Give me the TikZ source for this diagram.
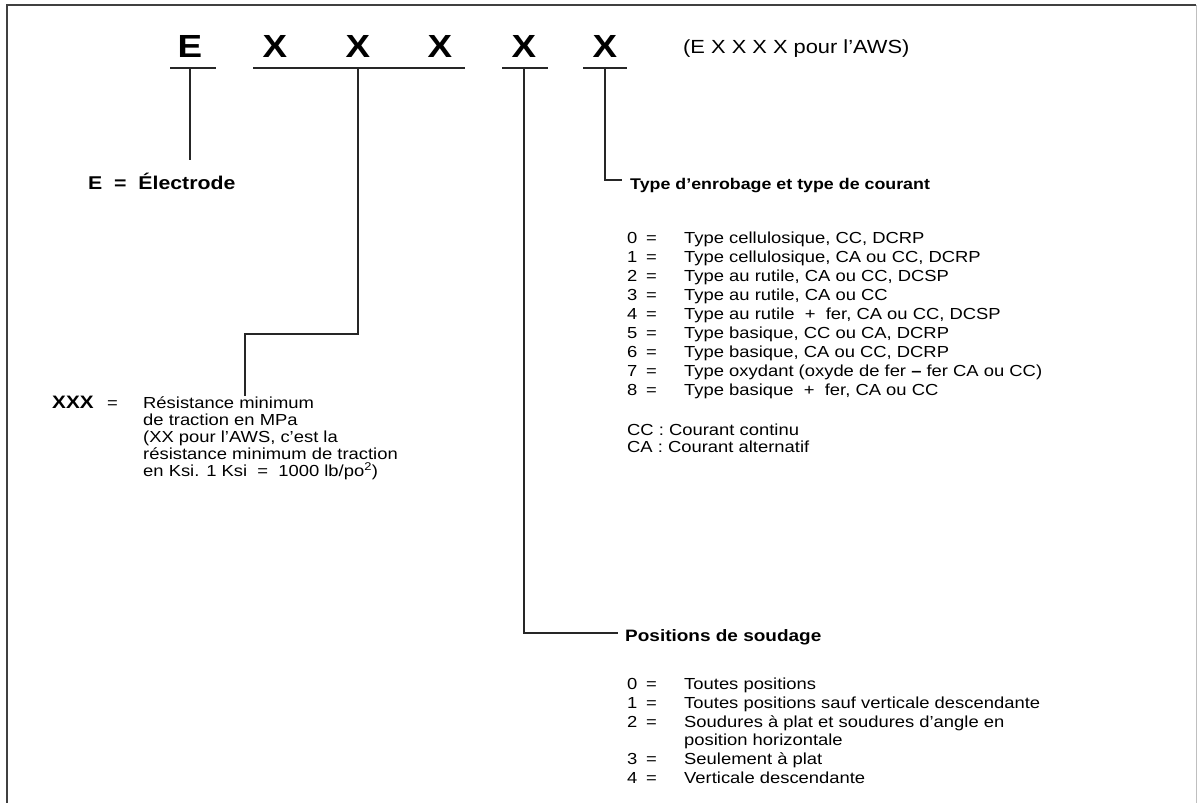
\documentclass[tikz,border=0pt]{standalone}
\usepackage{fontspec}
\setmainfont{Liberation Sans}[FakeStretch=1.15]
\usetikzlibrary{calc,positioning}

\begin{document}
\begin{tikzpicture}[x=1pt,y=-1pt,
    big/.style={font=\fontsize{32}{32}\selectfont\bfseries,inner sep=0pt,anchor=base},
    head/.style={font=\fontsize{16}{19}\selectfont\bfseries,inner sep=0pt,anchor=base west},
    txt/.style={font=\fontsize{16}{19}\selectfont,inner sep=0pt,anchor=base west},
    lead/.style={line width=1.4pt,black!85}]
  \useasboundingbox (0,0) rectangle (1200,803);
  \draw[black!75,line width=1.6pt] (7,810) -- (7,5) -- (1196,5);
  \draw[black!25,line width=1pt] (1196,5) -- (1196,810);
  % code letters
  \foreach \nm/\x/\ch in {E/190/E,A/275/X,B/358/X,C/440/X,D/524/X,F/605/X}
    \node[big] (c\nm) at (\x,57) {\ch};
  \node[txt,font=\fontsize{19}{21}\selectfont] (aws) at (683,53) {(E X X X X pour l'AWS)};
  % underlines
  \draw[lead] (170,68) -- (216,68);
  \draw[lead] (253,68) -- (465,68);
  \draw[lead] (502,68) -- (548,68);
  \draw[lead] (583,68) -- (627,68);
  \coordinate (uE) at (190,68);
  \coordinate (uB) at (358,68);
  \coordinate (uD) at (524,68);
  \coordinate (uF) at (605,68);
  % E
  \node[head,font=\fontsize{18.5}{20}\selectfont\bfseries] (electrode) at (88,189) {E\ \ =\ \ Électrode};
  \coordinate (endE) at (190,160);
  \draw[lead] (uE) -- (endE);
  % XXX
  \node[head,font=\fontsize{18}{20}\selectfont\bfseries] (xxx) at (52,408) {XXX};
  \node[txt] (xxxeq) at (107,408) {=};
  \foreach \t [count=\i from 0] in {Résistance minimum,de traction en MPa,
      {(XX pour l'AWS, c’est la},résistance minimum de traction,
      {en Ksi. 1 Ksi\ \ =\ \ 1000 lb/po\textsuperscript{2})}}
    \node[txt] (res\i) at (143,{408+17.2*\i}) {\t};
  \coordinate (bendB) at (245,334);
  \coordinate (endB) at (245,396);
  \draw[lead] (uB) |- (bendB) -- (endB);
  % enrobage
  \node[head,font=\fontsize{15.5}{19}\selectfont\bfseries] (enrobage) at (630,189) {Type d’enrobage et type de courant};
  \coordinate (endF) at (622,180);
  \draw[lead] (uF) |- (endF);
  \foreach \t [count=\i from 0] in {{Type cellulosique, CC, DCRP},
      {Type cellulosique, CA ou CC, DCRP},{Type au rutile, CA ou CC, DCSP},
      {Type au rutile, CA ou CC},{Type au rutile\ \ +\ \ fer, CA ou CC, DCSP},
      {Type basique, CC ou CA, DCRP},{Type basique, CA ou CC, DCRP},
      {Type oxydant (oxyde de fer \textbf{–} fer CA ou CC)},
      {Type basique\ \ +\ \ fer, CA ou CC}}
  {
    \node[txt] (enrn\i) at (627,{243+19.1*\i}) {\i};
    \node[txt] (enre\i) at (646,{243+19.1*\i}) {=};
    \node[txt] (enr\i) at (684,{243+19.1*\i}) {\t};
  }
  \node[txt] (cc) at (627,435) {CC : Courant continu};
  \node[txt] (ca) at (627,452) {CA : Courant alternatif};
  % soudage
  \node[head,font=\fontsize{16.5}{19}\selectfont\bfseries] (soudage) at (625,641) {Positions de soudage};
  \coordinate (endD) at (618,633);
  \draw[lead] (uD) |- (endD);
  \foreach \d/\y/\t in {0/689/{Toutes positions},
      1/708/{Toutes positions sauf verticale descendante},
      2/727/{Soudures à plat et soudures d’angle en},
      3/764/{Seulement à plat},4/783/{Verticale descendante}}
  {
    \node[txt] (soun\d) at (627,\y) {\d};
    \node[txt] (soue\d) at (646,\y) {=};
    \node[txt] (sou\d) at (684,\y) {\t};
  }
  \node[txt] (sou2b) at (684,745) {position horizontale};
\end{tikzpicture}
\end{document}
